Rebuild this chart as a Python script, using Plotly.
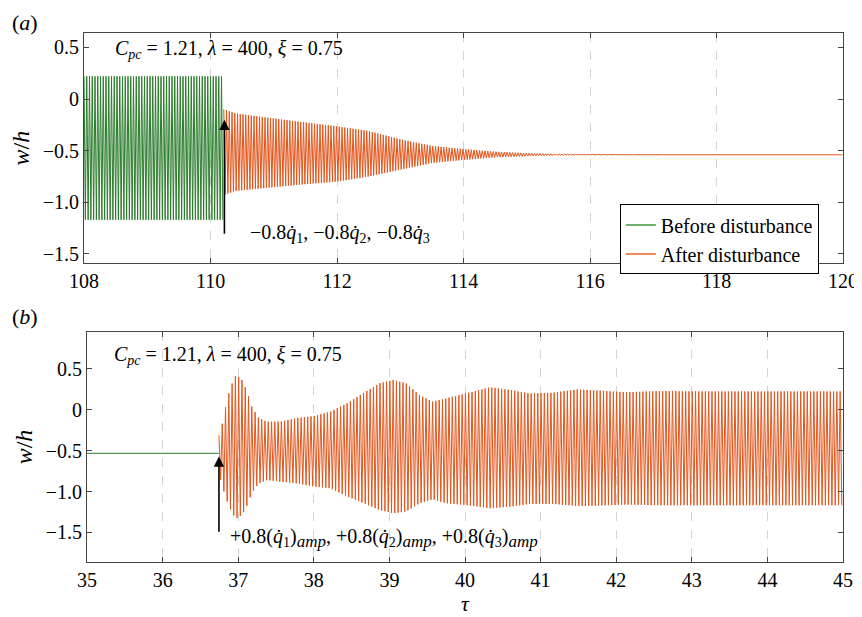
import numpy as np
import plotly.graph_objects as go
from plotly.subplots import make_subplots

# ---------------- data ----------------
# oscillation frequency (cycles per unit tau), read from bar spacing
cycles_per_unit = 23

# Panel (a): before disturbance (steady limit cycle)
a_before_start, a_before_end = 108.0, 110.21
a_before_upper, a_before_lower = 0.22, -1.17
# Panel (a): after disturbance, envelope
a_env_tau = [110.21, 110.4, 110.9, 111.4, 112.0, 112.5, 113.0, 113.5, 114.0, 114.5, 115.0, 115.5, 116.0, 117.0, 120.0]
a_env_upper = [-0.10, -0.14, -0.18, -0.22, -0.265, -0.31, -0.39, -0.455, -0.485, -0.51, -0.525, -0.533, -0.537, -0.54, -0.54]
a_env_lower = [-0.93, -0.89, -0.86, -0.83, -0.80, -0.75, -0.685, -0.62, -0.59, -0.565, -0.553, -0.545, -0.541, -0.54, -0.54]

# Panel (b): before disturbance (equilibrium)
b_before_tau = [35.0, 36.745]
b_before_val = [-0.532, -0.532]
# Panel (b): after disturbance envelope
b_env_tau = [36.745, 36.79, 36.86, 36.92, 36.97, 37.05, 37.11, 37.18, 37.27, 37.38, 37.56, 37.78, 38.01, 38.22,
             38.44, 38.65, 38.87, 39.05, 39.22, 39.40, 39.57, 39.75, 40.01, 40.33, 40.6, 40.86, 41.17, 41.48,
             41.78, 42.13, 42.57, 43.0, 45.0]
b_env_upper = [-0.31, -0.165, 0.16, 0.325, 0.427, 0.365, 0.243, 0.04, -0.10, -0.145, -0.145, -0.10, -0.075, -0.022,
               0.08, 0.202, 0.325, 0.365, 0.325, 0.18, 0.10, 0.14, 0.20, 0.276, 0.243, 0.20, 0.21, 0.25,
               0.235, 0.215, 0.23, 0.225, 0.225]
b_env_lower = [-0.777, -0.94, -1.14, -1.266, -1.33, -1.287, -1.185, -1.02, -0.90, -0.86, -0.88, -0.90, -0.94, -0.96,
               -1.06, -1.14, -1.226, -1.266, -1.246, -1.144, -1.095, -1.144, -1.165, -1.205, -1.185, -1.152, -1.152, -1.177,
               -1.172, -1.16, -1.168, -1.168, -1.168]

x_ticks_a = [108, 110, 112, 114, 116, 118, 120]
x_ticks_b = [35, 36, 37, 38, 39, 40, 41, 42, 43, 44, 45]
y_tickvals = [0.5, 0, -0.5, -1.0, -1.5]
y_ticktext = ["0.5", "0", "\u22120.5", "\u22121.0", "\u22121.5"]


def zigzag(t0, t1, up, lo):
    """Alternate between read upper and lower envelope values at each half period."""
    dt = 0.5 / cycles_per_unit
    n = int(np.floor((t1 - t0) / dt)) + 1
    t = t0 + dt * np.arange(n)
    u = up(t)
    l = lo(t)
    y = np.where(np.arange(n) % 2 == 0, u, l)
    return t, y


GREEN = "#2c7d2c"
ORANGE = "#e2561c"
FONT = "Liberation Serif, Times New Roman, serif"

fig = make_subplots(rows=2, cols=1)

# panel (a)
ta, ya = zigzag(a_before_start, a_before_end,
                lambda t: np.full_like(t, a_before_upper), lambda t: np.full_like(t, a_before_lower))
fig.add_trace(go.Scatter(x=ta, y=ya, mode="lines", line=dict(color=GREEN, width=1), showlegend=False), 1, 1)
ta2, ya2 = zigzag(a_env_tau[0], a_env_tau[-1],
                  lambda t: np.interp(t, a_env_tau, a_env_upper), lambda t: np.interp(t, a_env_tau, a_env_lower))
fig.add_trace(go.Scatter(x=ta2, y=ya2, mode="lines", line=dict(color=ORANGE, width=1), showlegend=False), 1, 1)

# panel (b)
fig.add_trace(go.Scatter(x=b_before_tau, y=b_before_val, mode="lines", line=dict(color=GREEN, width=1),
                         showlegend=False), 2, 1)
tb, yb = zigzag(b_env_tau[0], b_env_tau[-1],
                lambda t: np.interp(t, b_env_tau, b_env_upper), lambda t: np.interp(t, b_env_tau, b_env_lower))
fig.add_trace(go.Scatter(x=tb, y=yb, mode="lines", line=dict(color=ORANGE, width=1), showlegend=False), 2, 1)

# legend entries
fig.add_trace(go.Scatter(x=[None], y=[None], mode="lines", line=dict(color="#6fb06f", width=2),
                         name="Before disturbance"), 1, 1)
fig.add_trace(go.Scatter(x=[None], y=[None], mode="lines", line=dict(color="#ee8a5c", width=2),
                         name="After disturbance"), 1, 1)

axis_common = dict(showline=True, linecolor="#444", linewidth=1, mirror="ticks", ticks="inside",
                   ticklen=5, tickcolor="#444", tickfont=dict(family=FONT, size=20, color="black"),
                   zeroline=False)

fig.update_xaxes(**axis_common, showgrid=True, gridcolor="#d4d4d4", griddash="dash", gridwidth=1)
fig.update_yaxes(**axis_common, showgrid=False, tickvals=y_tickvals, ticktext=y_ticktext)

fig.update_layout(
    xaxis=dict(domain=[0, 1], range=[108, 120], tickvals=x_ticks_a),
    yaxis=dict(domain=[0.565, 1.0], range=[-1.59, 0.64],
               title=dict(text="<i>w</i>/<i>h</i>", font=dict(family=FONT, size=24), standoff=6)),
    xaxis2=dict(domain=[0.004, 1], range=[35, 45], tickvals=x_ticks_b,
                title=dict(text="<i>τ</i>", font=dict(family=FONT, size=22), standoff=4)),
    yaxis2=dict(domain=[0.0, 0.4348], range=[-1.863, 0.953],
                title=dict(text="<i>w</i>/<i>h</i>", font=dict(family=FONT, size=24), standoff=6)),
    width=862, height=617,
    margin=dict(l=75, r=26, t=25, b=63),
    plot_bgcolor="white", paper_bgcolor="white",
    legend=dict(x=0.706, y=0.676, xanchor="left", yanchor="top", bgcolor="white",
                bordercolor="black", borderwidth=1, font=dict(family=FONT, size=20, color="black"),
                tracegroupgap=0, itemwidth=30),
    font=dict(family=FONT, color="black"),
)

ann_font = dict(family=FONT, size=20, color="black")
title_txt = "<i>C</i><sub><i>pc</i></sub> = 1.21, <i>λ</i> = 400, <i>ξ</i> = 0.75"
fig.add_annotation(x=110.29, y=0.478, xref="x", yref="y", text=title_txt, showarrow=False, font=ann_font)
fig.add_annotation(x=36.87, y=0.671, xref="x2", yref="y2", text=title_txt, showarrow=False, font=ann_font)

fig.add_annotation(x=110.6, y=-1.30, xref="x", yref="y", xanchor="left",
                   text="\u22120.8<i>q̇</i><sub>1</sub>, \u22120.8<i>q̇</i><sub>2</sub>, \u22120.8<i>q̇</i><sub>3</sub>",
                   showarrow=False, font=ann_font)
amp = '<sub><span style="font-size:17px"><i>amp</i></span></sub>'
fig.add_annotation(x=36.86, y=-1.57, xref="x2", yref="y2", xanchor="left",
                   text=f"+0.8(<i>q̇</i><sub>1</sub>){amp}, +0.8(<i>q̇</i><sub>2</sub>){amp}, "
                        f"+0.8(<i>q̇</i><sub>3</sub>){amp}",
                   showarrow=False, font=ann_font)

# arrows
fig.add_annotation(x=110.22, y=-0.20, ax=110.22, ay=-1.32, xref="x", yref="y", axref="x", ayref="y",
                   text="", showarrow=True, arrowhead=2, arrowsize=1.3, arrowwidth=1.6, arrowcolor="black")
fig.add_annotation(x=36.745, y=-0.57, ax=36.745, ay=-1.51, xref="x2", yref="y2", axref="x2", ayref="y2",
                   text="", showarrow=True, arrowhead=2, arrowsize=1.3, arrowwidth=1.6, arrowcolor="black")

# panel labels
fig.add_annotation(x=-0.097, y=1.047, xref="paper", yref="paper", xanchor="left", yanchor="top",
                   text="(<i>a</i>)", showarrow=False, font=dict(family=FONT, size=22, color="black"))
fig.add_annotation(x=-0.097, y=0.465, xref="paper", yref="paper", xanchor="left", yanchor="middle",
                   text="(<i>b</i>)", showarrow=False, font=dict(family=FONT, size=22, color="black"))

fig.write_html("out.html")
